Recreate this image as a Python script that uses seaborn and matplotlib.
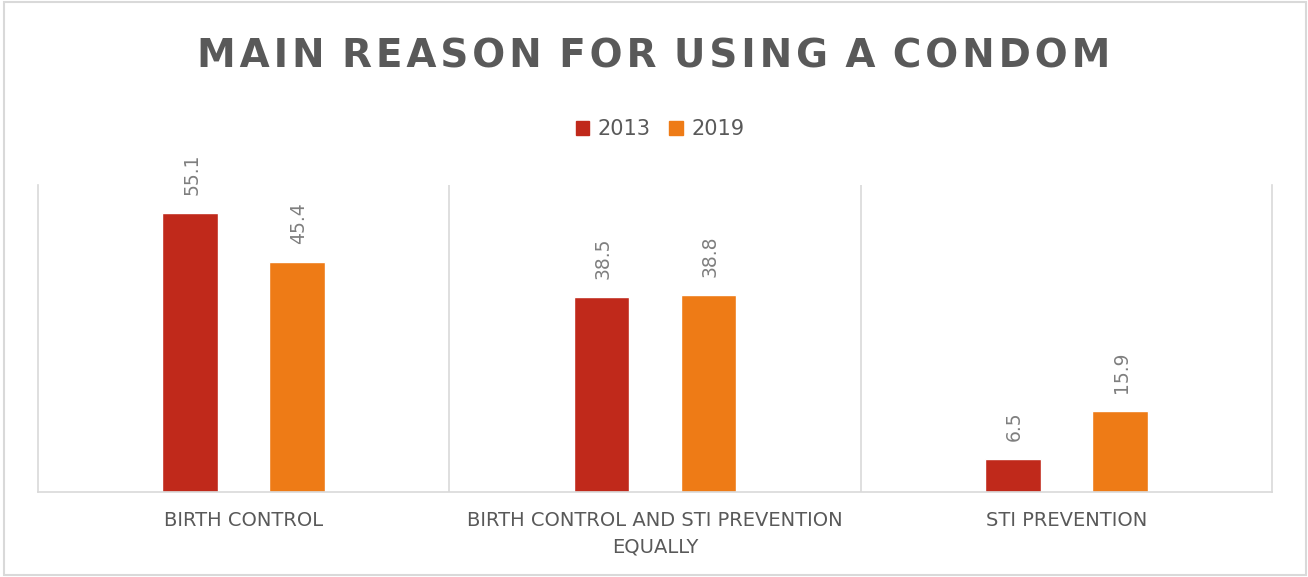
import matplotlib
matplotlib.use("Agg")
import matplotlib.pyplot as plt
import seaborn as sns
import pandas as pd
from matplotlib.patches import Rectangle

categories = ["BIRTH CONTROL", "BIRTH CONTROL AND STI PREVENTION\nEQUALLY", "STI PREVENTION"]
years = ["2013", "2019"]
values_2013 = [55.1, 38.5, 6.5]
values_2019 = [45.4, 38.8, 15.9]
colors = ["#C0291B", "#EE7B16"]
title = "MAIN REASON FOR USING A CONDOM"

df = pd.DataFrame({
    "category": categories * 2,
    "year": [years[0]] * 3 + [years[1]] * 3,
    "value": values_2013 + values_2019,
})

sns.set_style("white")
plt.rcParams["font.family"] = ["DejaVu Sans"]
text_col = "#595959"
grid_col = "#D9D9D9"

fig = plt.figure(figsize=(13.08, 5.77), dpi=100)
ax = fig.add_axes([38/1308, 85/577, (1272-38)/1308, (492-185)/577])

sns.barplot(data=df, x="category", y="value", hue="year", order=categories,
            hue_order=years, palette=colors, width=0.52, gap=0.477,
            saturation=1, ax=ax, legend=False, errorbar=None)

ax.set_ylim(0, 60.6)
ax.set_xlim(-0.5, 2.5)
ax.set_xlabel("")
ax.set_ylabel("")
ax.set_yticks([])
ax.tick_params(axis="x", length=0, pad=14, labelsize=14, labelcolor=text_col)
for lab in ax.get_xticklabels():
    lab.set_linespacing(1.45)
ax.spines["top"].set_visible(False)
for s in ["left", "right", "bottom"]:
    ax.spines[s].set_color(grid_col)
    ax.spines[s].set_linewidth(1.2)
for xb in [0.5, 1.5]:
    ax.axvline(xb, color=grid_col, lw=1.2)

for cont in ax.containers:
    for bar in cont:
        h = bar.get_height()
        ax.annotate(f"{h:.1f}", (bar.get_x() + bar.get_width()/2, h),
                    xytext=(1, 13), textcoords="offset points",
                    rotation=90, ha="center", va="bottom",
                    fontsize=13.5, color="#7F7F7F")

# legend
handles = [Rectangle((0, 0), 1, 1, color=c) for c in colors]
fig.legend(handles, years, loc="center", bbox_to_anchor=(660/1308, 1 - 129/577),
           ncol=2, frameon=False, fontsize=15, labelcolor=text_col,
           handlelength=0.65, handleheight=0.65, handletextpad=0.4, columnspacing=0.9)

spaced = " \u200a".join("\u200a".join(w) for w in title.split(" "))
fig.text(0.5, 1 - 56/577, spaced, ha="center", va="center",
         fontsize=28, fontweight="bold", color=text_col)

fig.add_artist(Rectangle((4/1308, 2/577), 1302/1308, 573/577, transform=fig.transFigure,
                         fill=False, edgecolor=grid_col, lw=1.5))

fig.savefig("out.png", dpi=100)
